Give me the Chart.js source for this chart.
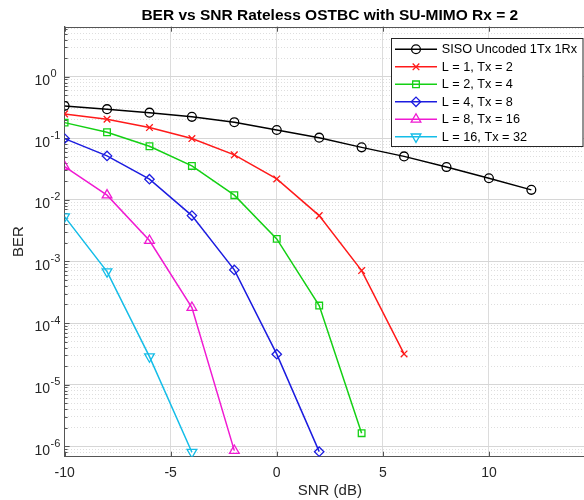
<!DOCTYPE html>
<html>
<head>
<meta charset="utf-8">
<script src="https://cdn.jsdelivr.net/npm/chart.js@4"></script>
<style>
  html, body { margin: 0; padding: 0; background: #fff; overflow: hidden; }
  #stage { display: block; }
</style>
</head>
<body>
<canvas id="stage" width="603" height="500"></canvas>
<script>
// values
var snr = [-10, -8, -6, -4, -2, 0, 2, 4, 6, 8, 10, 12];
var berSiso = [0.334, 0.296, 0.260, 0.222, 0.182, 0.136, 0.102, 0.071, 0.0507, 0.034, 0.0224, 0.0145];
var berL1 = [0.248, 0.203, 0.149, 0.0986, 0.0536, 0.0218, 0.00554, 7.1e-4, 3.15e-5];
var berL2 = [0.179, 0.125, 0.0741, 0.0355, 0.0119, 2.32e-3, 1.92e-4, 1.63e-6];
var berL4 = [0.0986, 0.0516, 0.0216, 5.54e-3, 7.28e-4, 3.12e-5, 8.16e-7];
var berL8 = [0.0346, 0.0119, 2.18e-3, 1.78e-4, 8.49e-7];
var berL16 = [5.33e-3, 6.83e-4, 2.85e-5, 8.0e-7];

var seriesLabels = ['SISO Uncoded 1Tx 1Rx', 'L = 1, Tx = 2', 'L = 2, Tx = 4', 'L = 4, Tx = 8', 'L = 8, Tx = 16', 'L = 16, Tx = 32'];
var seriesColors = ['#000000', '#ff1a1a', '#14d014', '#1c1ce0', '#f01ad2', '#14bde8'];
var seriesData = [berSiso, berL1, berL2, berL4, berL8, berL16];

var xMin = -10, xMax = 15, xStep = 5;
var yMin = Math.pow(10, -6.17), yMax = Math.pow(10, 0.81);

var FONT = '"Liberation Sans", Arial, Helvetica, sans-serif';
var TEXT = '#262626';
var AXIS = '#555555';

// marker look per series
var markers = [
  { style: 'circle', radius: 4.4, rotation: 0 },
  { style: 'crossRot', radius: 4.7, rotation: 0 },
  { style: 'rect', radius: 4.7, rotation: 0 },
  { style: 'rectRot', radius: 4.7, rotation: 0 },
  { style: 'triangle', radius: 5.6, rotation: 0 },
  { style: 'triangle', radius: 5.6, rotation: 180 }
];

function logInfo(v) {
  var e = Math.floor(Math.log10(v) + 1e-9);
  var m = v / Math.pow(10, e);
  var r = Math.round(m);
  var isInt = Math.abs(m - r) < 1e-6;
  return { isInt: isInt, decade: isInt && (r === 1 || r === 10), exp: Math.round(Math.log10(v)) };
}

var datasets = seriesData.map(function (vals, i) {
  return {
    label: seriesLabels[i],
    data: vals.map(function (v, k) { return { x: snr[k], y: v }; }),
    borderColor: seriesColors[i],
    borderWidth: 1.5,
    pointStyle: markers[i].style,
    pointRadius: markers[i].radius,
    pointRotation: markers[i].rotation,
    pointBorderColor: seriesColors[i],
    pointBackgroundColor: 'rgba(0,0,0,0)',
    pointBorderWidth: 1.3,
    tension: 0,
    fill: false
  };
});

// box top line, inward tick marks, legend, exponents
var decor = {
  id: 'decor',
  beforeDatasetsDraw: function (chart) {
    var ctx = chart.ctx, a = chart.chartArea;
    var xs = chart.scales.x, ys = chart.scales.y;
    ctx.save();
    ctx.strokeStyle = AXIS;
    ctx.lineWidth = 1;
    ctx.beginPath();
    ctx.moveTo(a.left, Math.round(a.top) + 0.5);
    ctx.lineTo(a.right, Math.round(a.top) + 0.5);
    ys.ticks.forEach(function (t) {
      var info = logInfo(t.value);
      if (!info.isInt) return;
      var len = info.decade ? 5 : 3;
      var py = Math.round(ys.getPixelForValue(t.value)) + 0.5;
      ctx.moveTo(a.left, py);
      ctx.lineTo(a.left + len, py);
    });
    xs.ticks.forEach(function (t) {
      var px = Math.round(xs.getPixelForValue(t.value)) + 0.5;
      ctx.moveTo(px, a.bottom);
      ctx.lineTo(px, a.bottom - 5);
      ctx.moveTo(px, a.top);
      ctx.lineTo(px, a.top + 5);
    });
    ctx.stroke();
    ctx.restore();
  },
  afterDatasetsDraw: function (chart) {
    var ctx = chart.ctx;
    ctx.save();
    ctx.fillStyle = '#ffffff';
    ctx.fillRect(391.5, 38.5, 191.5, 108);
    ctx.strokeStyle = TEXT;
    ctx.lineWidth = 1;
    ctx.strokeRect(391.5, 38.5, 191.5, 108);
    chart.data.datasets.forEach(function (ds, i) {
      var y = 49.3 + i * 17.5;
      ctx.strokeStyle = ds.borderColor;
      ctx.lineWidth = 1.5;
      ctx.beginPath();
      ctx.moveTo(395, y);
      ctx.lineTo(437, y);
      ctx.stroke();
      ctx.fillStyle = 'rgba(0,0,0,0)';
      ctx.lineWidth = 1.3;
      Chart.helpers.drawPoint(ctx, {
        pointStyle: ds.pointStyle, rotation: ds.pointRotation,
        radius: ds.pointRadius, borderWidth: 1.3
      }, 416, y);
      ctx.fillStyle = '#000000';
      ctx.font = '12.7px ' + FONT;
      ctx.textAlign = 'left';
      ctx.textBaseline = 'middle';
      ctx.fillText(ds.label, 441.7, y + 0.5);
    });
    ctx.restore();
  },
  afterDraw: function (chart) {
    var ctx = chart.ctx, ys = chart.scales.y;
    ctx.save();
    ctx.fillStyle = TEXT;
    ctx.font = '11px ' + FONT;
    ctx.textAlign = 'left';
    ctx.textBaseline = 'middle';
    ys.ticks.forEach(function (t) {
      var info = logInfo(t.value);
      if (!info.decade) return;
      var py = ys.getPixelForValue(t.value);
      ctx.fillText(String(info.exp), 50.5, py - 2.5);
    });
    ctx.restore();
  }
};

new Chart(document.getElementById('stage'), {
  type: 'line',
  data: { datasets: datasets },
  plugins: [decor],
  options: {
    responsive: false,
    animation: false,
    devicePixelRatio: 1,
    layout: { padding: { left: 0, right: 0.5, top: 0, bottom: 0 } },
    plugins: {
      legend: { display: false },
      tooltip: { enabled: false },
      title: {
        display: true,
        text: 'BER vs SNR Rateless OSTBC with SU-MIMO Rx = 2',
        fullSize: false,
        color: '#000000',
        font: { family: FONT, size: 15.5, weight: 'bold' },
        padding: { top: 6.9, bottom: 1.2 }
      }
    },
    scales: {
      x: {
        type: 'linear',
        min: xMin,
        max: xMax,
        afterFit: function (s) { s.height = 43.3; },
        grid: { drawTicks: false, color: '#dcdcdc', lineWidth: 1 },
        border: { color: AXIS, width: 1 },
        ticks: {
          stepSize: xStep,
          autoSkip: false,
          maxRotation: 0,
          padding: 8,
          color: TEXT,
          font: { family: FONT, size: 14 },
          callback: function (v) { return v === xMax ? '' : String(v); }
        },
        title: {
          display: true,
          text: 'SNR (dB)',
          color: TEXT,
          font: { family: FONT, size: 15 },
          padding: { top: 0, bottom: 0 }
        }
      },
      y: {
        type: 'logarithmic',
        min: yMin,
        max: yMax,
        afterFit: function (s) { s.width = 64.6; },
        grid: {
          drawTicks: false,
          lineWidth: 1,
          color: function (c) {
            var info = logInfo(c.tick.value);
            if (!info.isInt) return 'rgba(0,0,0,0)';
            return info.decade ? '#d6d6d6' : '#dedede';
          }
        },
        border: {
          color: AXIS,
          width: 1,
          dash: function (c) {
            if (!c.tick) return [];
            return logInfo(c.tick.value).decade ? [] : [1, 2];
          }
        },
        ticks: {
          autoSkip: false,
          padding: 14.6,
          labelOffset: 4.5,
          color: TEXT,
          font: { family: FONT, size: 14 },
          callback: function (v) { return logInfo(v).decade ? '10' : ''; }
        },
        title: {
          display: true,
          text: 'BER',
          color: TEXT,
          font: { family: FONT, size: 15 },
          padding: { top: 10.2, bottom: 0 }
        }
      }
    }
  }
});
</script>
</body>
</html>
